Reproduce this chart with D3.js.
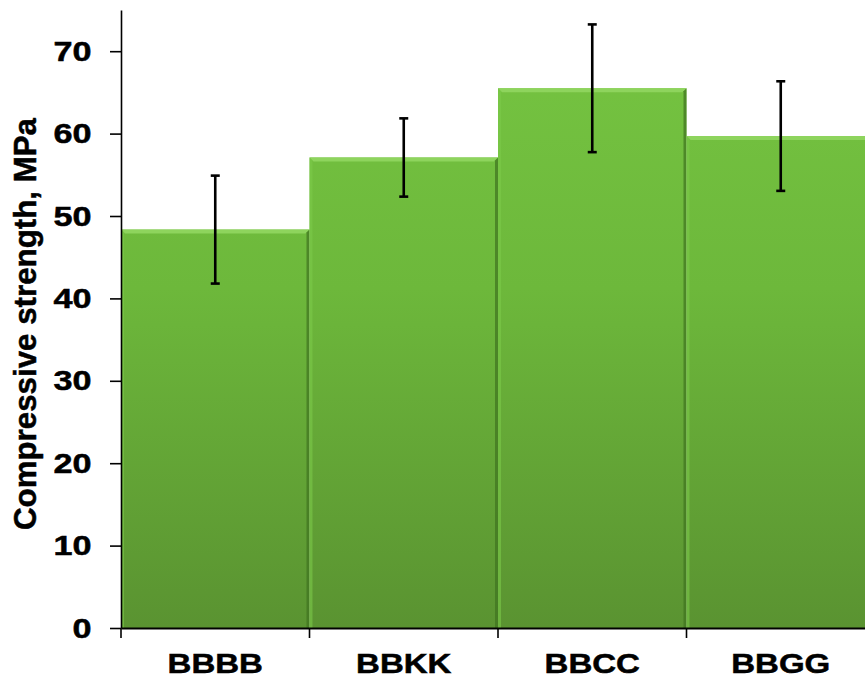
<!DOCTYPE html>
<html>
<head>
<meta charset="utf-8">
<script src="https://cdn.jsdelivr.net/npm/d3@7"></script>
<style>
  html, body { margin: 0; padding: 0; background: #fff; }
  svg { display: block; }
  text { font-family: "Liberation Sans", Arial, sans-serif; font-weight: bold; fill: #000; stroke: #000; stroke-width: 0.5px; }
</style>
</head>
<body>
<svg id="chart" width="865" height="679"></svg>
<script>
const categories = ["BBBB", "BBKK", "BBCC", "BBGG"];
const strength = [48.35, 57.1, 65.5, 59.7];
const stdDev = [6.55, 4.75, 7.75, 6.65];
const yTicks = [0, 10, 20, 30, 40, 50, 60, 70];
const yTitle = "Compressive strength, MPa";

const svg = d3.select("#chart");

const x = d3.scaleBand().domain(categories).range([121, 875]).padding(0);
const y = d3.scaleLinear().domain([0, 75]).range([628, 10]);

const defs = svg.append("defs");
const grad = defs.append("linearGradient").attr("id", "barGrad")
  .attr("gradientUnits", "userSpaceOnUse")
  .attr("x1", 0).attr("x2", 0)
  .attr("y1", y(75)).attr("y2", y(0));
grad.append("stop").attr("offset", "0%").attr("stop-color", "#76c542");
grad.append("stop").attr("offset", "45%").attr("stop-color", "#6db83b");
grad.append("stop").attr("offset", "100%").attr("stop-color", "#5a9331");

const data = categories.map((c, i) => ({ c, v: strength[i], e: stdDev[i] }));

const bars = svg.append("g").attr("class", "bars");
const bw = x.bandwidth();
const bev = 4;

const g = bars.selectAll("g.bar").data(data).join("g").attr("class", "bar");
g.append("rect")
  .attr("x", d => x(d.c)).attr("y", d => y(d.v))
  .attr("width", bw).attr("height", d => y(0) - y(d.v))
  .attr("fill", "url(#barGrad)");
g.append("path")
  .attr("d", d => {
    const x0 = x(d.c), x1 = x0 + bw, t = y(d.v);
    return `M${x0},${t}L${x1},${t}L${x1 - bev},${t + bev}L${x0 + bev},${t + bev}Z`;
  })
  .attr("fill", "#8ed45d");
g.append("path")
  .attr("d", d => {
    const x0 = x(d.c), t = y(d.v), b = y(0);
    return `M${x0},${t}L${x0 + 3},${t + 3}L${x0 + 3},${b}L${x0},${b}Z`;
  })
  .attr("fill", "#7cc94a").attr("opacity", 0.6);
g.append("path")
  .attr("d", d => {
    const x1 = x(d.c) + bw, t = y(d.v), b = y(0);
    return `M${x1},${t}L${x1 - 3},${t + 3}L${x1 - 3},${b}L${x1},${b}Z`;
  })
  .attr("fill", "#3f7220").attr("opacity", 0.7);

// error bars
const eb = svg.append("g").attr("class", "errorbars")
  .attr("stroke", "#000").attr("stroke-width", 2.6).attr("fill", "none");
eb.selectAll("line.v").data(data).join("line").attr("class", "v")
  .attr("x1", d => x(d.c) + bw / 2).attr("x2", d => x(d.c) + bw / 2)
  .attr("y1", d => y(d.v + d.e)).attr("y2", d => y(d.v - d.e));
eb.selectAll("line.t").data(data).join("line").attr("class", "t")
  .attr("x1", d => x(d.c) + bw / 2 - 4.5).attr("x2", d => x(d.c) + bw / 2 + 4.5)
  .attr("y1", d => y(d.v + d.e)).attr("y2", d => y(d.v + d.e));
eb.selectAll("line.b").data(data).join("line").attr("class", "b")
  .attr("x1", d => x(d.c) + bw / 2 - 4.5).attr("x2", d => x(d.c) + bw / 2 + 4.5)
  .attr("y1", d => y(d.v - d.e)).attr("y2", d => y(d.v - d.e));

// y axis
const yAxis = d3.axisLeft(y).tickValues(yTicks).tickSize(11).tickSizeOuter(0);
const gy = svg.append("g").attr("transform", "translate(121,0)").call(yAxis);
gy.select(".domain").attr("stroke", "#000").attr("stroke-width", 1.6);
gy.selectAll(".tick line").attr("stroke", "#000").attr("stroke-width", 1.6);
gy.selectAll(".tick text")
  .attr("font-size", 28.5).attr("font-family", "Liberation Sans, Arial, sans-serif")
  .attr("font-weight", "bold").attr("fill", "#000")
  .attr("dy", "0.32em")
  .attr("transform", "scale(1.2,1)")
  .attr("x", -29.5 / 1.2);

// x axis
const xAxis = d3.axisBottom(x).tickSize(0).tickFormat("");
const gx = svg.append("g").attr("transform", `translate(0,${y(0)})`).call(xAxis);
gx.select(".domain").attr("stroke", "#000").attr("stroke-width", 1.8);
const bounds = categories.map(c => x(c));
gx.selectAll("line.bt").data(bounds).join("line").attr("class", "bt")
  .attr("x1", d => d).attr("x2", d => d).attr("y1", 0).attr("y2", 10)
  .attr("stroke", "#000").attr("stroke-width", 1.6);

// x labels
svg.append("g").selectAll("text").data(categories).join("text")
  .attr("transform", c => `translate(${x(c) + bw / 2},673) scale(1.18,1)`)
  .attr("text-anchor", "middle").attr("font-size", 28)
  .text(c => c);

// y title
svg.append("text")
  .attr("transform", `translate(36,${(118 + 530) / 2}) rotate(-90)`)
  .attr("text-anchor", "middle").attr("font-size", 31)
  .attr("textLength", 412).attr("lengthAdjust", "spacingAndGlyphs")
  .text(yTitle);
</script>
</body>
</html>
